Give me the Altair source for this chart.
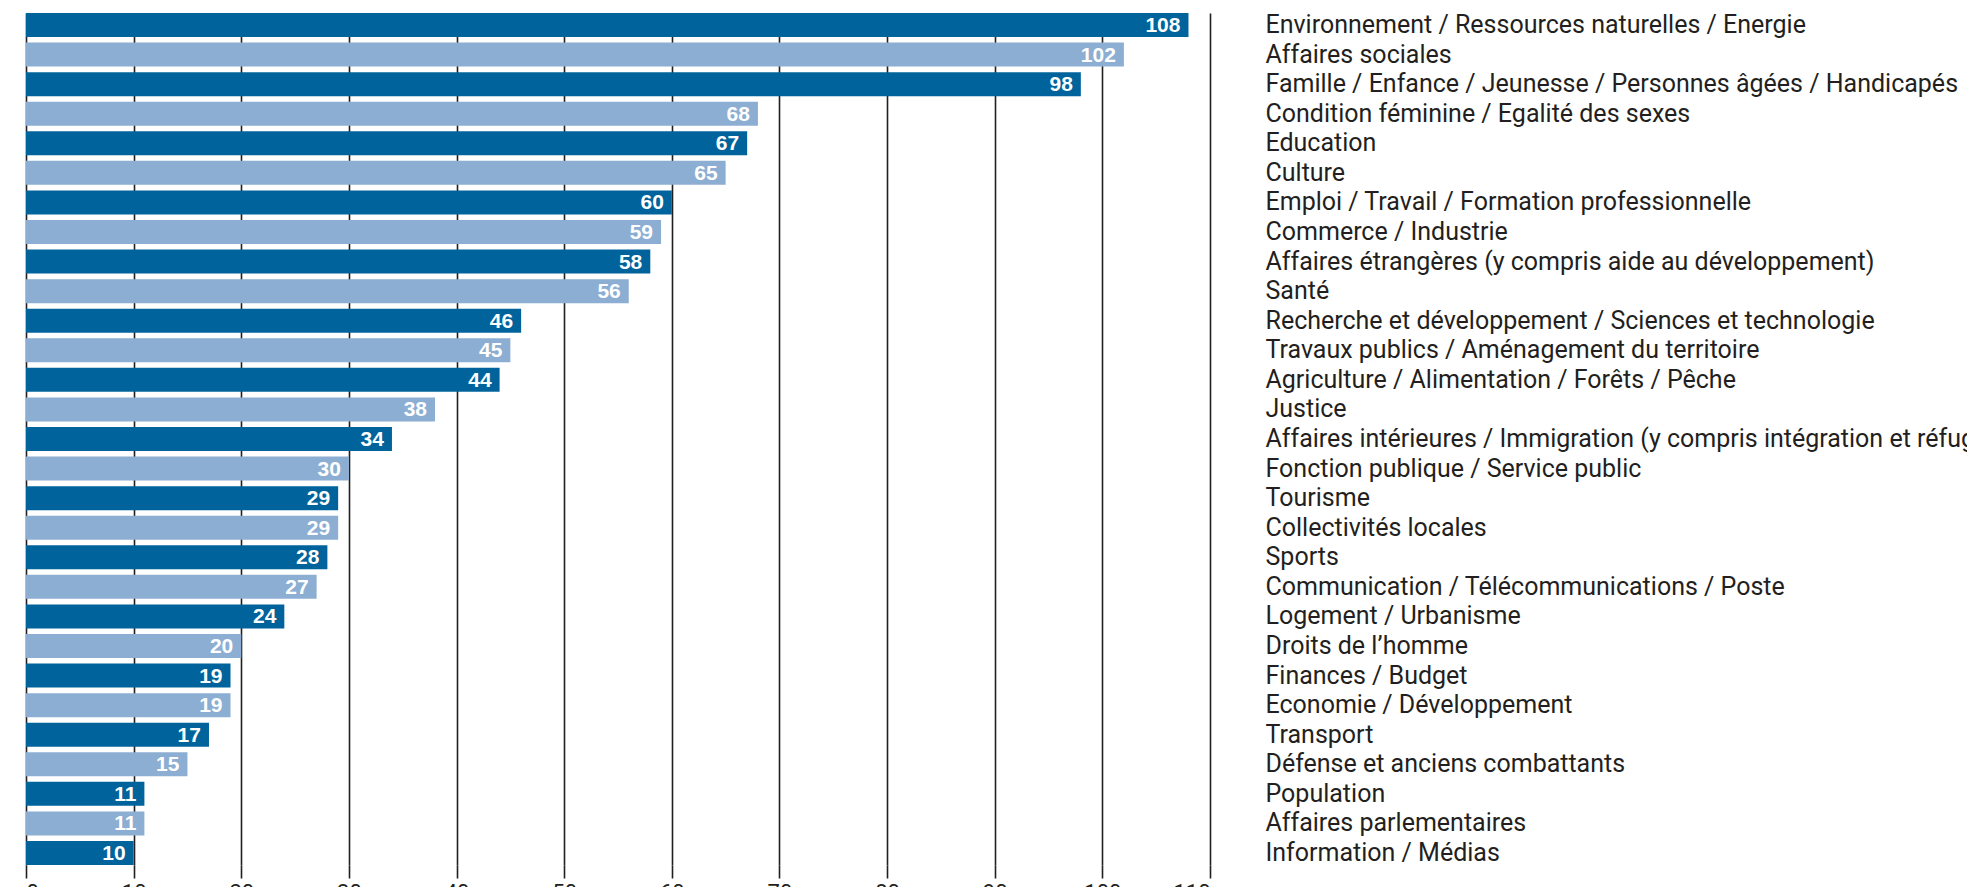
import altair as alt
import pandas as pd

categories = [
    "Environnement / Ressources naturelles / Energie",
    "Affaires sociales",
    "Famille / Enfance / Jeunesse / Personnes âgées / Handicapés",
    "Condition féminine / Egalité des sexes",
    "Education",
    "Culture",
    "Emploi / Travail / Formation professionnelle",
    "Commerce / Industrie",
    "Affaires étrangères (y compris aide au développement)",
    "Santé",
    "Recherche et développement / Sciences et technologie",
    "Travaux publics / Aménagement du territoire",
    "Agriculture / Alimentation / Forêts / Pêche",
    "Justice",
    "Affaires intérieures / Immigration (y compris intégration et réfugiés)",
    "Fonction publique / Service public",
    "Tourisme",
    "Collectivités locales",
    "Sports",
    "Communication / Télécommunications / Poste",
    "Logement / Urbanisme",
    "Droits de l’homme",
    "Finances / Budget",
    "Economie / Développement",
    "Transport",
    "Défense et anciens combattants",
    "Population",
    "Affaires parlementaires",
    "Information / Médias",
]
values = [108, 102, 98, 68, 67, 65, 60, 59, 58, 56, 46, 45, 44, 38, 34, 30,
          29, 29, 28, 27, 24, 20, 19, 19, 17, 15, 11, 11, 10]
x_ticks = [0, 10, 20, 30, 40, 50, 60, 70, 80, 90, 100, 110]

df = pd.DataFrame({
    "cat": categories,
    "val": values,
    "shade": ["dark" if i % 2 == 0 else "light" for i in range(len(categories))],
})

INK = "#231f20"
FONT = "Roboto"

y_enc = alt.Y(
    "cat:N", sort=None, title=None,
    scale=alt.Scale(paddingInner=0.188, paddingOuter=0),
    axis=alt.Axis(orient="right", domain=False, ticks=False, grid=False,
                  labelAlign="left", labelPadding=55, labelLimit=2000,
                  labelFont=FONT, labelFontSize=25, labelColor=INK),
)
x_enc = alt.X(
    "val:Q", title=None,
    scale=alt.Scale(domain=[0, 110], nice=False, zero=True),
    axis=alt.Axis(values=x_ticks, grid=True, gridColor=INK, gridWidth=1.6,
                  gridOpacity=1, domain=False, tickSize=13, tickColor=INK,
                  tickWidth=1.6, labelFont=FONT, labelFontSize=22,
                  labelColor=INK, labelPadding=4),
)

bars = alt.Chart(df).mark_bar().encode(
    x=x_enc,
    y=y_enc,
    color=alt.Color("shade:N", legend=None,
                    scale=alt.Scale(domain=["dark", "light"],
                                    range=["#00639c", "#8caed2"])),
)

labels = alt.Chart(df).mark_text(
    align="right", baseline="middle", dx=-8, dy=1, color="white",
    font="Liberation Sans", fontWeight="bold", fontSize=21,
).encode(
    x=alt.X("val:Q", scale=alt.Scale(domain=[0, 110], nice=False)),
    y=alt.Y("cat:N", sort=None),
    text="val:Q",
)

chart = alt.layer(bars, labels).properties(
    width=1184,
    height=852,
    autosize=alt.AutoSizeParams(type="none"),
    padding={"left": 18, "top": 5, "right": 757, "bottom": 22},
).configure_view(stroke=None)

chart.save("out.html", embed_options={"renderer": "svg", "actions": False})
